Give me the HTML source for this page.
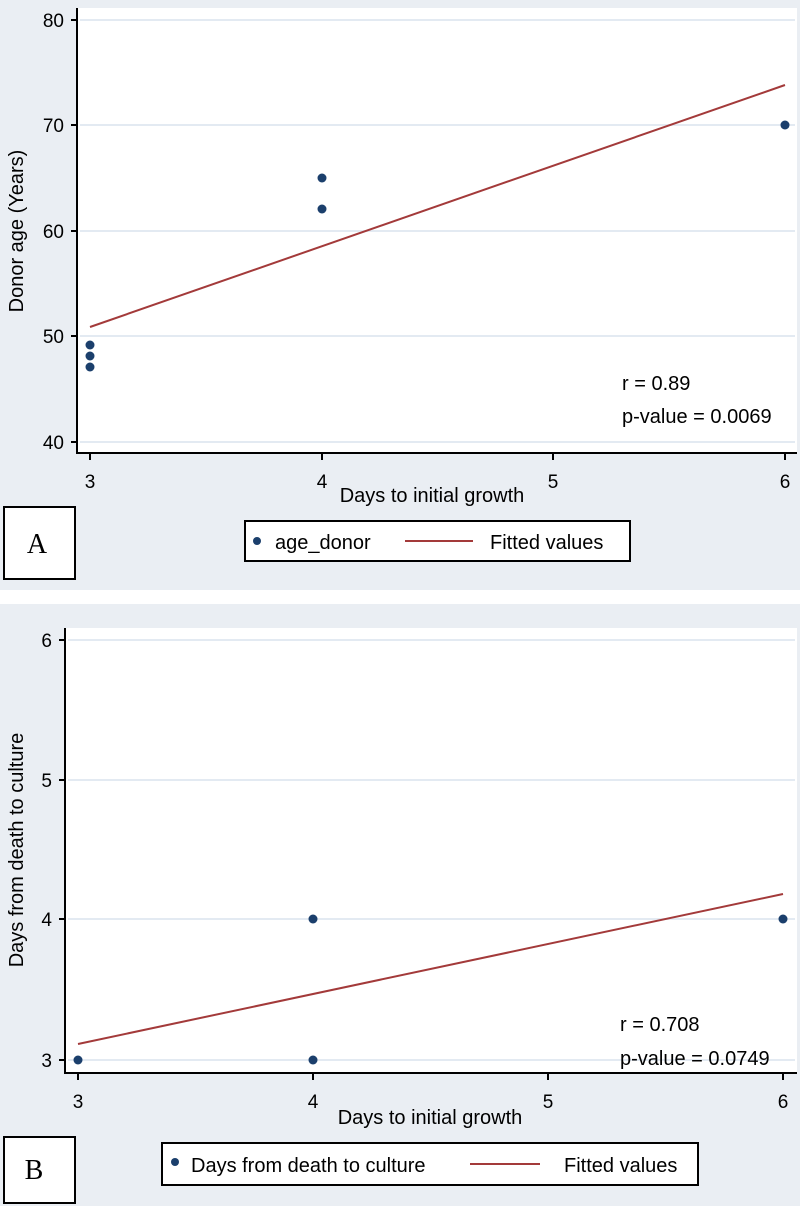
<!DOCTYPE html>
<html><head><meta charset="utf-8"><style>
body{margin:0;background:#fff;}
svg{display:block;font-family:"Liberation Sans",sans-serif;}
</style></head><body>
<svg width="800" height="1206" viewBox="0 0 800 1206">
<rect x="0" y="0" width="800" height="590" fill="#eaeef3"/>
<rect x="0" y="604" width="800" height="602" fill="#eaeef3"/>
<!-- Panel A -->
<rect x="77" y="8" width="720" height="445" fill="#fff"/>
<g stroke="#e3eaf2" stroke-width="2">
<line x1="80" y1="20" x2="795" y2="20"/><line x1="80" y1="125" x2="795" y2="125"/>
<line x1="80" y1="231" x2="795" y2="231"/><line x1="80" y1="336" x2="795" y2="336"/>
<line x1="80" y1="442" x2="795" y2="442"/></g>
<g stroke="#000" stroke-width="2" fill="none">
<line x1="77" y1="8" x2="77" y2="454"/><line x1="76" y1="453" x2="797" y2="453"/>
<line x1="71" y1="20" x2="77" y2="20"/><line x1="71" y1="125" x2="77" y2="125"/>
<line x1="71" y1="231" x2="77" y2="231"/><line x1="71" y1="336" x2="77" y2="336"/>
<line x1="71" y1="442" x2="77" y2="442"/>
<line x1="90" y1="453" x2="90" y2="460"/><line x1="322" y1="453" x2="322" y2="460"/>
<line x1="553" y1="453" x2="553" y2="460"/><line x1="785" y1="453" x2="785" y2="460"/></g>
<g font-size="19" text-anchor="end">
<text x="64" y="27">80</text><text x="64" y="132">70</text><text x="64" y="238">60</text>
<text x="64" y="343">50</text><text x="64" y="449">40</text></g>
<g font-size="19" text-anchor="middle">
<text x="90" y="488">3</text><text x="322" y="488">4</text><text x="553" y="488">5</text><text x="785" y="488">6</text>
<text x="432" y="502" font-size="20">Days to initial growth</text></g>
<text transform="translate(23,231) rotate(-90)" font-size="20" text-anchor="middle">Donor age (Years)</text>
<line x1="90" y1="327" x2="785" y2="85" stroke="#a33a3a" stroke-width="2"/>
<g fill="#1b3f6c">
<circle cx="90" cy="345" r="4.5"/><circle cx="90" cy="356" r="4.5"/><circle cx="90" cy="367" r="4.5"/>
<circle cx="322" cy="178" r="4.5"/><circle cx="322" cy="209" r="4.5"/><circle cx="785" cy="125" r="4.5"/></g>
<text x="622" y="390" font-size="20">r = 0.89</text>
<text x="622" y="423" font-size="20">p-value = 0.0069</text>
<rect x="4" y="507" width="71" height="72" fill="#fff" stroke="#000" stroke-width="2"/>
<text x="37" y="553" font-family="Liberation Serif,serif" font-size="28" text-anchor="middle">A</text>
<rect x="245" y="521" width="385" height="40" fill="#fff" stroke="#000" stroke-width="2"/>
<circle cx="257" cy="541" r="4" fill="#1b3f6c"/>
<text x="275" y="549" font-size="20">age_donor</text>
<line x1="405" y1="541" x2="473" y2="541" stroke="#a33a3a" stroke-width="2"/>
<text x="490" y="549" font-size="20">Fitted values</text>
<!-- Panel B -->
<rect x="65" y="628" width="732" height="445" fill="#fff"/>
<g stroke="#e3eaf2" stroke-width="2">
<line x1="68" y1="640" x2="795" y2="640"/><line x1="68" y1="780" x2="795" y2="780"/>
<line x1="68" y1="919" x2="795" y2="919"/><line x1="68" y1="1060" x2="795" y2="1060"/></g>
<g stroke="#000" stroke-width="2" fill="none">
<line x1="65" y1="628" x2="65" y2="1074"/><line x1="64" y1="1073" x2="797" y2="1073"/>
<line x1="59" y1="640" x2="65" y2="640"/><line x1="59" y1="780" x2="65" y2="780"/>
<line x1="59" y1="919" x2="65" y2="919"/><line x1="59" y1="1060" x2="65" y2="1060"/>
<line x1="78" y1="1073" x2="78" y2="1080"/><line x1="313" y1="1073" x2="313" y2="1080"/>
<line x1="548" y1="1073" x2="548" y2="1080"/><line x1="783" y1="1073" x2="783" y2="1080"/></g>
<g font-size="19" text-anchor="end">
<text x="52" y="647">6</text><text x="52" y="787">5</text><text x="52" y="926">4</text><text x="52" y="1067">3</text></g>
<g font-size="19" text-anchor="middle">
<text x="78" y="1108">3</text><text x="313" y="1108">4</text><text x="548" y="1108">5</text><text x="783" y="1108">6</text>
<text x="430" y="1124" font-size="20">Days to initial growth</text></g>
<text transform="translate(23,850) rotate(-90)" font-size="20" text-anchor="middle">Days from death to culture</text>
<line x1="78" y1="1044" x2="783" y2="894" stroke="#a33a3a" stroke-width="2"/>
<g fill="#1b3f6c">
<circle cx="78" cy="1060" r="4.5"/><circle cx="313" cy="1060" r="4.5"/>
<circle cx="313" cy="919" r="4.5"/><circle cx="783" cy="919" r="4.5"/></g>
<text x="620" y="1031" font-size="20">r = 0.708</text>
<text x="620" y="1065" font-size="20">p-value = 0.0749</text>
<rect x="4" y="1137" width="71" height="66" fill="#fff" stroke="#000" stroke-width="2"/>
<text x="34" y="1179" font-family="Liberation Serif,serif" font-size="28" text-anchor="middle">B</text>
<rect x="162" y="1143" width="536" height="42" fill="#fff" stroke="#000" stroke-width="2"/>
<circle cx="175" cy="1162" r="4" fill="#1b3f6c"/>
<text x="191" y="1172" font-size="20">Days from death to culture</text>
<line x1="470" y1="1164" x2="540" y2="1164" stroke="#a33a3a" stroke-width="2"/>
<text x="564" y="1172" font-size="20">Fitted values</text>
</svg>
</body></html>
